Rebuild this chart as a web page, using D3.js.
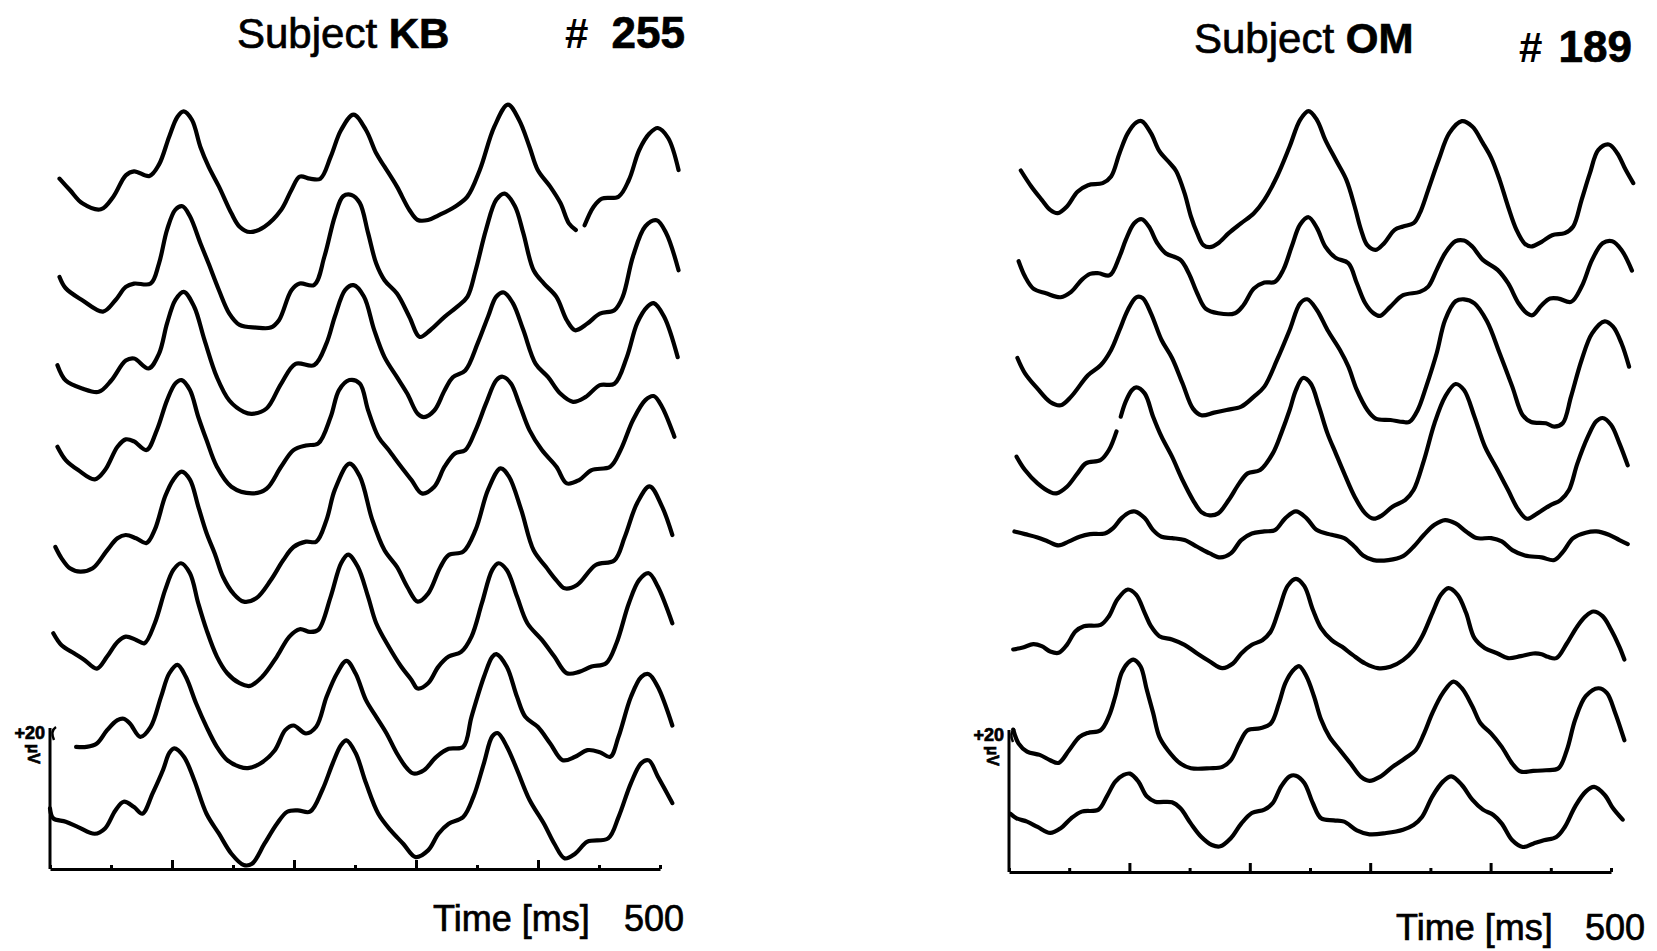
<!DOCTYPE html>
<html lang="en">
<head>
<meta charset="UTF-8">
<title>Subject KB / Subject OM averaged responses</title>
<script src="https://d3js.org/d3.v7.min.js"></script>
<style>
    body { margin: 0; background: #fff; }
    svg { display: block; }
    text { font-family: "Liberation Sans", Arial, sans-serif; fill: #000; }
    text.heavy { stroke: #000; stroke-width: 0.7px; }
</style>
</head>
<body>
<svg width="1657" height="951"></svg>
<script>
// ---- data (time in ms, amplitude in µV relative to each trace's baseline) ----
const subjects = ["KB", "OM"];
const trialCounts = [255, 189];
const minorTicks = [0, 50, 150, 250, 350, 450, 500];
const majorTicks = [100, 200, 300, 400];
const timeEnd = 500;
const scaleBarLabel = "+20";

// Subject KB, top trace first. null marks a break in the pen line.
const kbTraces = [
  [[7.8,-1.3],[16.3,-3],[26.5,-5],[41.7,-5.9],[51.9,-4],[62.1,-0.8],[68.9,-0.2],[81.5,-0.9],[89.3,0.8],[97.7,5],[104.5,8],[109.6,8.8],[116.4,7.5],[123.2,3.5],[130,0.5],[138.5,-2.5],[148.7,-6.5],[155.4,-8.5],[163.9,-9.3],[175.8,-8.5],[189.4,-6],[197.9,-3],[204.7,-1],[213.1,-1.3],[221.6,-1.3],[230.1,2],[238.6,6],[248.8,8.3],[259,6],[267.4,2.5],[274.2,0.5],[284.4,-2.5],[294.6,-6],[301.4,-7.5],[309.9,-7.5],[318.4,-6.8],[331.9,-5.5],[342.1,-4],[352.3,0],[364.2,6.5],[375.4,9.8],[384.5,7.5],[393,3.5],[399.8,0],[410,-2.5],[418.5,-5],[425.3,-8],[431,-9],[434.5,null],[438.2,-8.3],[445.6,-5.5],[452.4,-4.3],[466,-4],[474.5,-1.5],[483,3],[491.5,5.5],[498.2,6.3],[506.7,4.8],[515.2,0]],
  [[7.8,-2.4],[12.9,-4.1],[26.5,-5.9],[43.4,-7.6],[53.6,-5.9],[62.1,-3.9],[68.9,-3.4],[82.5,-3.4],[89.3,-0.4],[96,4.7],[102.8,7.7],[108.6,8.2],[114.7,6.7],[123.2,2.7],[130,-0.4],[138.5,-4.4],[147,-7.9],[155.4,-9.6],[169,-10],[180.9,-10],[187.7,-8.9],[197.9,-4.4],[204.7,-3.4],[216.5,-3.6],[225,0.7],[233.5,6.7],[240.3,9.7],[247.1,9.9],[253.9,8.7],[260.7,4.2],[267.4,-0.4],[274.2,-2.9],[284.4,-4.9],[294.6,-8.4],[303.1,-11.4],[311.6,-10.4],[323.4,-8.4],[333.6,-6.9],[342.1,-5.4],[348.9,-1.4],[357.4,4.7],[365.9,9.2],[372.7,10.1],[381.1,8.2],[387.9,4.2],[396.4,-1.4],[404.9,-3.4],[415.1,-5.4],[423.6,-8.9],[430.4,-10.4],[440.5,-9.4],[450.7,-7.9],[462.6,-7.4],[469.4,-5.4],[477.9,0.7],[488,5.2],[497.2,6.1],[505,4.2],[515.2,-1.4]],
  [[6.1,-2],[12.9,-4.3],[26.5,-5.5],[40,-6],[50.2,-4.3],[62.1,-1.3],[68.9,-1],[80.8,-2.5],[89.3,-0.3],[96,4.3],[102.8,7.8],[109.6,9],[118.1,6.8],[126.6,1.8],[136.8,-3.8],[147,-7.3],[158.8,-9],[165.6,-9.3],[177.5,-8.5],[189.4,-4.8],[201.3,-1.8],[216.5,-2],[226.7,1.3],[233.5,5.3],[242,9.3],[248.8,10],[257.3,8.3],[265.7,3.3],[274.2,-0.8],[284.4,-3.8],[292.9,-6.3],[301.4,-9.3],[306.5,-9.8],[315,-8.8],[323.4,-5.8],[330.2,-3.8],[340.4,-2.8],[350.6,1.3],[359.1,5.3],[365.9,8.3],[372,8.9],[379.4,7.3],[387.9,3.3],[398.1,-1.8],[408.3,-3.8],[418.5,-6.3],[428.7,-7.5],[438.8,-6.8],[450.7,-5],[462.6,-4.8],[472.8,-0.8],[481.3,4.3],[489.8,6.8],[494.8,7.3],[503.3,5.3],[514.5,-0.8]],
  [[6.1,-0.6],[12.9,-2.6],[23.1,-4.1],[36.7,-5.5],[45.1,-4.1],[55.3,-0.6],[62.1,0.5],[68.9,0.2],[79.1,-1.1],[87.6,1.9],[96,6.4],[102.8,8.9],[107.9,9.4],[114.7,7.9],[121.5,3.9],[128.3,0.4],[136.8,-3.6],[148.7,-6.6],[165.6,-7.6],[177.5,-6.9],[189.4,-3.6],[199.6,-1.1],[209.8,-0.4],[219.9,-0.1],[230.1,3.9],[236.9,7.9],[245.4,9.4],[253.9,8.9],[260.7,4.9],[269.1,0.9],[277.6,-1.1],[287.8,-3.6],[296.3,-5.6],[304.8,-7.6],[315,-6.6],[323.4,-3.6],[331.9,-1.6],[340.4,-1.1],[348.9,1.9],[357.4,5.9],[365.9,9.4],[371,9.9],[377.8,8.9],[384.5,5.9],[393,1.9],[403.2,-1.1],[415.1,-3.6],[423.6,-6.1],[433.7,-5.6],[443.9,-4.1],[459.2,-3.6],[467.7,-1.1],[477.9,3.4],[488,6.4],[494.8,7],[501.6,5.4],[511.8,0.9]],
  [[4.4,-2],[9.5,-3.7],[16.3,-5.2],[24.8,-5.7],[35,-5.2],[46.8,-2.5],[55.3,-0.7],[62.1,-0.2],[70.6,-0.7],[79.1,-1.4],[85.9,0.6],[94.4,5.6],[101.1,8.1],[107.9,9.3],[114.7,8.1],[121.5,4.1],[128.3,0.1],[135.1,-3],[141.9,-6.5],[150.4,-9],[158.8,-10.2],[169,-9.7],[180.9,-7],[191.1,-4],[199.6,-2],[209.8,-1.2],[218.2,-1.2],[226.7,2.1],[233.5,6.6],[245.4,10.5],[253.9,8.6],[264.1,2.1],[274.2,-2.5],[284.4,-5],[292.9,-8],[301.4,-10.2],[309.9,-9],[320,-5],[326.8,-3.2],[338.7,-2.7],[348.9,0.6],[359.1,6.6],[369.3,9.8],[376.1,8.6],[386.2,3.6],[396.4,-2.5],[406.6,-5],[415.1,-7],[421.9,-8.2],[432,-7.7],[447.3,-4.7],[462.6,-4],[471.1,-0.5],[481.3,4.6],[491.5,7.1],[501.6,4.1],[510.1,-0.2]],
  [[2.7,-1.3],[9.5,-3.1],[19.7,-4.3],[28.2,-5.3],[38.4,-6.6],[46.8,-4.8],[55.3,-2.6],[62.1,-1.8],[70.6,-2.3],[77.4,-2.8],[85.9,0.2],[94.4,5.2],[101.1,8.2],[107.3,9.2],[114.7,7.7],[121.5,3.2],[128.3,-0.8],[136.8,-4.8],[145.3,-7.3],[155.4,-8.8],[163.9,-9.2],[174.1,-7.8],[186,-4.8],[196.2,-1.8],[204.7,-0.7],[213.1,-1.1],[219.9,-0.8],[230.1,4.2],[238.6,9.2],[244.4,10.5],[252.2,8.7],[260.7,4.2],[267.4,0.2],[277.6,-3.3],[287.8,-6.3],[296.3,-8.3],[301.4,-9.6],[309.9,-8.8],[318.4,-6.3],[326.8,-4.8],[337,-4.1],[345.5,-1.8],[354,3.2],[362.5,8.2],[367.6,9.2],[374.4,8.2],[382.8,4.2],[391.3,0.2],[403.2,-2.3],[413.4,-4.8],[423.6,-7.3],[433.7,-7.1],[443.9,-6.3],[455.8,-5.8],[464.3,-2.8],[474.5,3.2],[483,6.7],[490.8,7.7],[498.2,5.7],[510.1,0.2]],
  [[21.4,-4.7],[29.9,-4.7],[38.4,-4.2],[46.8,-2.2],[55.3,-0.7],[60.4,-0.5],[65.5,-1.2],[74,-3.2],[82.5,-1.7],[91,2.8],[97.7,6.3],[104.5,7.6],[111.3,5.8],[119.8,1.8],[128.3,-1.7],[136.8,-4.7],[145.3,-6.7],[155.4,-7.7],[162.2,-7.9],[172.4,-7.2],[184.3,-5.2],[192.8,-2.2],[199.6,-1.5],[209.8,-2.7],[218.2,-1.7],[226.7,2.8],[235.2,6.3],[243,8.2],[250.5,6.3],[259,2.3],[267.4,-0.2],[275.9,-2.7],[284.4,-5.7],[292.9,-8],[298,-8.7],[306.5,-8.2],[316.7,-6.2],[326.8,-5],[338.7,-4.7],[345.5,-0.2],[355.7,5.8],[362.5,8.8],[365.9,9.2],[374.4,7.3],[382.8,2.8],[389.6,-0.2],[399.8,-1.7],[410,-4.2],[420.2,-6.7],[430.4,-6.2],[440.5,-5.2],[450.7,-5.5],[459.2,-6.2],[466,-3.2],[476.2,2.8],[484.7,5.8],[490.8,6.2],[498.2,4.3],[510.1,-1.5]],
  [[0,-0.3],[2.7,-1.8],[12.9,-2.3],[23.1,-3.1],[36.7,-4.1],[45.1,-3.3],[53.6,-0.6],[60.4,0.7],[68.9,-0.1],[75.7,-1.1],[84.2,2],[92.7,5.5],[97.7,8],[101.8,8.7],[109.6,7.5],[118.1,4],[128.3,-1.1],[138.5,-4.1],[148.7,-7.1],[158.8,-8.8],[165.6,-8.6],[175.8,-5.6],[186,-2.6],[194.5,-0.8],[203,-0.6],[213.1,-0.8],[223.3,2.5],[231.8,6.5],[238.6,9.2],[243,9.9],[250.5,8],[259,3.5],[269.1,-1.1],[279.3,-3.6],[289.5,-5.6],[299.7,-7.6],[309.9,-6.6],[318.4,-4.1],[326.8,-2.6],[338.7,-1.6],[347.2,1.5],[355.7,6.5],[362.5,10.5],[366.9,11],[374.4,9],[382.8,5.5],[393,1],[404.9,-2.6],[413.4,-5.6],[421.9,-7.8],[430.4,-7.1],[440.5,-5.3],[457.5,-4.8],[466,-1.6],[476.2,3.5],[484.7,6.5],[490.8,6.9],[498.2,4.5],[510.1,0.5]]
];

// Subject OM, top trace first
const omTraces = [
  [[9.8,2.1],[18.5,-0.3],[27.2,-2.3],[34.2,-3.8],[40.5,-4.3],[48.1,-3.3],[56.9,-1.1],[65.6,-0.1],[77.8,0.2],[84.8,1.2],[91.8,4.7],[98.7,7.7],[105.7,9.3],[110.3,9.5],[117.9,7.7],[124.9,5],[133.6,3.2],[138.9,2],[145.8,-1.3],[151.1,-4.8],[156.3,-7.3],[161.5,-9.1],[166.8,-9.4],[173.8,-8.8],[182.5,-7.3],[192.9,-5.8],[203.4,-4.3],[212.1,-2.3],[222.6,1.2],[233.1,5.7],[241.8,9.7],[248.8,11],[255.7,9.7],[262.7,6.7],[271.4,3.7],[280.2,0.7],[287.1,-3.3],[292.4,-6.8],[297.6,-9.1],[304.6,-9.8],[311.6,-8.8],[320.3,-6.8],[327.3,-6.3],[336,-5.8],[341.2,-4.3],[348.2,-0.8],[356.9,3.7],[365.7,7.7],[376.1,9.5],[384.8,8.7],[393.6,6.2],[400.5,4],[407.5,0.7],[414.5,-3.3],[421.5,-6.8],[428.5,-8.9],[433.7,-9.3],[442.4,-8.6],[451.1,-7.6],[461.6,-7.3],[468.6,-6.3],[475.6,-2.3],[482.5,1.7],[489.5,5.2],[498.2,6],[505.2,4.7],[512.2,2.2],[518.5,0.2]],
  [[8,1.9],[13.3,-0.4],[20.2,-2.2],[30.7,-2.9],[42.9,-3.5],[51.6,-2.7],[60.4,-0.9],[67.3,0],[74.3,0.1],[83.7,-0.2],[91.8,2.6],[97,5.1],[104,7.6],[110.3,8.2],[116.2,7.1],[123.2,4.6],[130.1,3.1],[142.4,2.1],[149.3,0.1],[156.3,-2.9],[163.3,-5.2],[173.8,-5.9],[187.7,-5.9],[194.7,-4.7],[203.4,-2.2],[212.1,-1.3],[220.9,-1.2],[227.8,0.6],[234.8,4.1],[241.8,7.4],[248.8,8.5],[255.7,6.9],[262.7,4.1],[271.4,2.4],[281.9,1.6],[288.9,-1.4],[295.9,-4.4],[302.8,-5.9],[308.1,-6.3],[316.8,-4.9],[327.3,-3.2],[341.2,-2.7],[348.2,-1.9],[355.2,0.6],[362.2,3.1],[370.9,4.9],[377.9,5],[384.8,4.1],[393.6,2.1],[405.8,0.6],[414.5,-1.4],[423.2,-4.4],[430.2,-5.9],[434.7,-6.2],[442.4,-4.7],[449.4,-3.7],[456.4,-3.7],[466.8,-4.2],[475.6,-1.9],[484.3,2.1],[493,4.6],[501,4.9],[508.7,3.6],[517.4,0.5]],
  [[7,0.8],[13.3,-1.5],[23.7,-3.8],[34.2,-5.8],[42.9,-6.3],[51.6,-5],[65.6,-1.8],[76.1,-0.3],[84.8,2],[91.8,5],[98.7,8],[105.7,9.9],[110.9,9.8],[117.9,7.5],[126.7,3.5],[135.4,0.8],[144.1,-3],[152.8,-6.8],[159.8,-7.8],[170.3,-7.4],[180.7,-7],[192.9,-6.5],[203.4,-5],[212.1,-3.5],[222.6,0.5],[233.1,5],[241.8,9],[247.7,9.6],[255.7,8],[264.5,5],[274.9,2],[281.9,-0.5],[288.9,-4],[297.6,-7],[304.6,-8.3],[316.8,-8.5],[327.3,-8.8],[332.5,-8.8],[339.5,-7],[346.5,-3.5],[355.2,1.5],[362.2,6.5],[370.9,9.3],[377.9,9.6],[386.6,9],[397,6.3],[407.5,1.5],[418,-3.5],[426.7,-7.8],[433.7,-8.8],[445.9,-9],[452.9,-9.5],[459.9,-9],[466.8,-5],[475.6,0.5],[484.3,4.5],[494.8,6.3],[501.7,5.5],[508.7,3],[515,-0.5]],
  [[6.3,-0.6],[13.3,-2.6],[23.7,-4.6],[34.2,-5.9],[39.4,-6.1],[48.1,-5.1],[56.9,-3.1],[63.8,-1.6],[76.1,-1.1],[83,0.4],[89.3,3.2],[91,null],[92.8,5.4],[97,7.7],[102.2,9.4],[105.7,9.8],[112.7,8.9],[119.7,5.4],[126.7,2.4],[135.4,-0.6],[144.1,-4.1],[152.8,-7.1],[159.8,-8.9],[166.8,-9.4],[173.8,-9.1],[182.5,-7.1],[191.2,-4.6],[198.2,-3.1],[208.6,-2.6],[219.1,-0.1],[226.1,2.9],[233.1,6.4],[238.3,9.4],[244.2,11.2],[250.5,10.4],[257.5,6.9],[264.5,2.9],[271.4,-0.1],[278.4,-3.1],[287.1,-6.6],[295.9,-9.1],[302.8,-9.9],[309.8,-9.4],[318.5,-8.1],[329,-7.1],[336,-5.6],[344.7,-1.1],[353.4,4.4],[362.2,8.4],[370.9,10.3],[377.9,9.4],[386.6,5.4],[395.3,0.9],[405.8,-2.6],[414.5,-5.6],[423.2,-8.6],[430.2,-9.9],[438.9,-9.1],[449.4,-7.9],[458.1,-7.1],[465.1,-5.6],[472.1,-1.6],[480.8,2.4],[487.8,4.7],[493,5.2],[500,4.2],[507,1.4],[513.9,-1.9]],
  [[4.5,1.6],[13.3,1.2],[23.7,0.7],[32.4,0.1],[41.2,-0.5],[49.9,0.1],[58.6,0.8],[67.3,1.2],[79.5,1.3],[86.5,2.1],[93.5,3.6],[100.5,4.5],[104.7,4.6],[112.7,3.6],[119.7,1.8],[126.7,0.8],[135.4,0.6],[145.8,0.3],[156.3,-0.7],[166.8,-1.7],[175.5,-2.3],[184.2,-1.7],[192.9,0.3],[201.7,1.3],[212.1,1.6],[220.9,1.8],[229.6,3.6],[238.3,4.6],[247,3.6],[255.7,1.8],[268,1.1],[278.4,0.6],[287.1,-0.7],[294.1,-2],[302.8,-2.7],[315.1,-2.7],[327.3,-2.1],[336,-0.7],[344.7,1.1],[353.4,2.6],[362.2,3.3],[370.9,2.8],[379.6,1.6],[388.3,0.6],[400.5,0.6],[409.3,0.1],[418,-1.2],[428.5,-2],[442.4,-2.3],[452.9,-2.7],[459.9,-1.5],[468.6,0.6],[479,1.4],[487.8,1.6],[498.2,1.1],[507,0.3],[513.9,-0.3]],
  [[3.5,-2.7],[11.5,-2.4],[20.2,-1.9],[27.2,-2.2],[34.2,-3],[41.2,-3.2],[48.1,-2],[55.1,0],[62.1,0.8],[76.1,1],[83,2.3],[90,4.8],[98.7,6.3],[105.7,5.5],[112.7,2.8],[117.9,0.8],[124.9,-0.7],[135.4,-1.2],[145.8,-2],[156.3,-3.3],[166.8,-4.5],[177.2,-5.5],[186,-4.8],[192.9,-3.3],[201.7,-2],[210.4,-1.3],[217.4,0],[224.3,3.3],[231.3,6.8],[238.3,7.9],[245.3,6.8],[252.3,3.3],[259.2,0.5],[268,-1.3],[276.7,-2.3],[285.4,-3.5],[295.9,-4.8],[306.3,-5.5],[316.8,-5.3],[327.3,-4.3],[336,-2.8],[343,-0.8],[351.7,2.8],[358.7,5.5],[364.9,6.5],[372.6,5.5],[379.6,2.8],[386.6,-1],[395.3,-2.5],[405.8,-3.3],[414.5,-4],[425,-3.7],[435.4,-3.3],[442.4,-3.4],[447.6,-3.8],[454.6,-4],[463.3,-1.8],[472.1,0.8],[479,2.3],[485.3,3],[493,2.3],[500,0.3],[507,-2.3],[511.1,-4.2]],
  [[3.5,-1.3],[8,-3.4],[15,-4.6],[25.5,-5.1],[34.2,-5.9],[41.2,-6.3],[49.9,-4.4],[58.6,-2.4],[65.6,-1.8],[76.1,-1.4],[83,0.7],[88.3,3.7],[93.5,7.2],[98.7,8.7],[103.3,9.2],[109.2,8.2],[114.4,4.7],[119.7,1.2],[124.9,-2.4],[131.9,-4.4],[142.4,-6.4],[151.1,-7.1],[166.8,-7.1],[177.2,-6.9],[184.2,-5.9],[191.2,-3.4],[198.2,-1.4],[208.6,-1.1],[217.4,-0.4],[224.3,2.7],[229.6,5.7],[236.6,7.7],[241.1,8.2],[247,6.7],[253.3,3.7],[259.2,0.2],[266.2,-2.4],[274.9,-4.4],[283.7,-6.4],[292.4,-8.4],[299.4,-9],[308.1,-8.4],[318.5,-6.9],[329,-5.6],[337.7,-4.4],[344.7,-1.9],[351.7,1.2],[360.4,4.2],[369.1,5.9],[376.1,4.9],[384.8,2.2],[391.8,-0.4],[400.5,-1.9],[409.3,-3.9],[418,-6.4],[425,-7.6],[435.4,-7.5],[445.9,-7.4],[456.4,-7.1],[463.3,-4.4],[470.3,0.2],[479,3.7],[489.5,4.9],[496.5,4.2],[503.5,1.2],[511.1,-2.9]],
  [[1,-0.5],[6.3,-1.2],[15,-1.7],[23.7,-2.5],[34.2,-3.4],[42.9,-2.7],[51.6,-1.2],[60.4,-0.2],[74.3,0.1],[81.3,2.1],[88.3,4.3],[95.2,5.3],[100.5,5.5],[107.5,4.3],[114.4,2.1],[121.4,1.3],[135.4,1.2],[142.4,0.3],[151.1,-2],[159.8,-4],[168.5,-5.2],[175.5,-5.4],[184.2,-4.2],[192.9,-2],[201.7,-0.4],[212.1,0.1],[219.1,1.1],[226.1,3.6],[233.1,5.1],[238.3,5.2],[245.3,4.1],[252.3,1.1],[259.2,-1.2],[269.7,-1.5],[278.4,-1.7],[288.9,-3],[299.4,-3.6],[313.3,-3.4],[327.3,-2.9],[336,-2.2],[343,-1],[351.7,2.1],[360.4,4.3],[367.4,5.1],[376.1,3.8],[384.8,1.6],[393.6,0.1],[402.3,-0.7],[409.3,-2],[418,-4.5],[426.7,-5.5],[435.4,-5],[444.2,-4.5],[454.6,-4],[461.6,-2.5],[470.3,0.6],[479,2.8],[486,3.5],[494.8,2.3],[501.7,0.3],[509.7,-1.4]]
];

// ---- layout ----
const svg = d3.select("svg");
const pxPerUV = 20 / 3;

const panels = [
    { traces: kbTraces, x0: 50, x1: 660, rowTop: 170, rowBottom: 806.4, axisY: 869, barTop: 728,
      titleX: 237, titleY: 48, hashX: 565, numX: 685, numY: 48,
      timeX: 433, timeY: 931, endX: 624 },
    { traces: omTraces, x0: 1009, x1: 1611, rowTop: 184.5, rowBottom: 810.3, axisY: 872, barTop: 730,
      titleX: 1194, titleY: 53, hashX: 1519, numX: 1632, numY: 62,
      timeX: 1396, timeY: 940, endX: 1585 }
];

panels.forEach((p, k) => {
    const x = d3.scaleLinear().domain([0, timeEnd]).range([p.x0, p.x1]);
    const row = d3.scaleLinear().domain([0, p.traces.length - 1]).range([p.rowTop, p.rowBottom]);
    const amp = d3.scaleLinear().domain([0, 1]).range([0, -pxPerUV]);

    const g = svg.append("g");

    // traces
    g.selectAll("path.trace")
        .data(p.traces)
        .join("path")
        .attr("class", "trace")
        .attr("d", (tr, i) => d3.line()
            .defined(d => d[1] !== null)
            .x(d => x(d[0]))
            .y(d => row(i) + amp(d[1]))
            .curve(d3.curveCatmullRom.alpha(0.5))(tr))
        .attr("fill", "none")
        .attr("stroke", "#000")
        .attr("stroke-width", 4.2)
        .attr("stroke-linejoin", "round")
        .attr("stroke-linecap", "round");

    // time axis with upward ticks
    const axisG = g.append("g").attr("transform", `translate(0,${p.axisY})`);
    axisG.append("g")
        .call(d3.axisBottom(x).tickValues(minorTicks).tickSize(-4).tickSizeOuter(0).tickFormat(""));
    axisG.append("g")
        .call(d3.axisBottom(x).tickValues(majorTicks).tickSize(-9).tickSizeOuter(0).tickFormat(""))
        .select(".domain").remove();
    axisG.selectAll("path, line").attr("stroke", "#000").attr("stroke-width", 3);

    // amplitude scale bar
    g.append("line")
        .attr("x1", x(0)).attr("x2", x(0))
        .attr("y1", p.axisY).attr("y2", p.barTop)
        .attr("stroke", "#000").attr("stroke-width", 3);
    g.append("path")
        .attr("d", `M${x(0) + 6},${p.barTop - 1} Q${x(0)},${p.barTop + 3} ${x(0) + 4},${p.barTop + 12}`)
        .attr("fill", "none").attr("stroke", "#000").attr("stroke-width", 2.5);
    g.append("text")
        .attr("class", "heavy")
        .attr("x", x(0) - 5).attr("y", p.barTop + 11)
        .attr("text-anchor", "end")
        .attr("font-size", 18).attr("font-weight", "bold")
        .text(scaleBarLabel);
    g.append("text")
        .attr("class", "heavy")
        .attr("transform", `translate(${x(0) - 22},${p.barTop + 16}) rotate(90)`)
        .attr("font-size", 16).attr("font-weight", "bold")
        .text("µV");

    // titles
    const title = g.append("text")
        .attr("class", "heavy")
        .attr("x", p.titleX).attr("y", p.titleY)
        .attr("font-size", 42)
        .text("Subject ");
    title.append("tspan").attr("font-weight", "bold").text(subjects[k]);
    g.append("text")
        .attr("x", p.hashX).attr("y", p.numY)
        .attr("font-size", 42).attr("font-weight", "bold")
        .text("#");
    g.append("text")
        .attr("class", "heavy")
        .attr("x", p.numX).attr("y", p.numY)
        .attr("text-anchor", "end")
        .attr("font-size", 44).attr("font-weight", "bold")
        .text(trialCounts[k]);

    // time label
    g.append("text")
        .attr("class", "heavy")
        .attr("x", p.timeX).attr("y", p.timeY)
        .attr("font-size", 36)
        .text("Time [ms]");
    g.append("text")
        .attr("class", "heavy")
        .attr("x", p.endX).attr("y", p.timeY)
        .attr("font-size", 36)
        .text(timeEnd);
});
</script>
</body>
</html>
